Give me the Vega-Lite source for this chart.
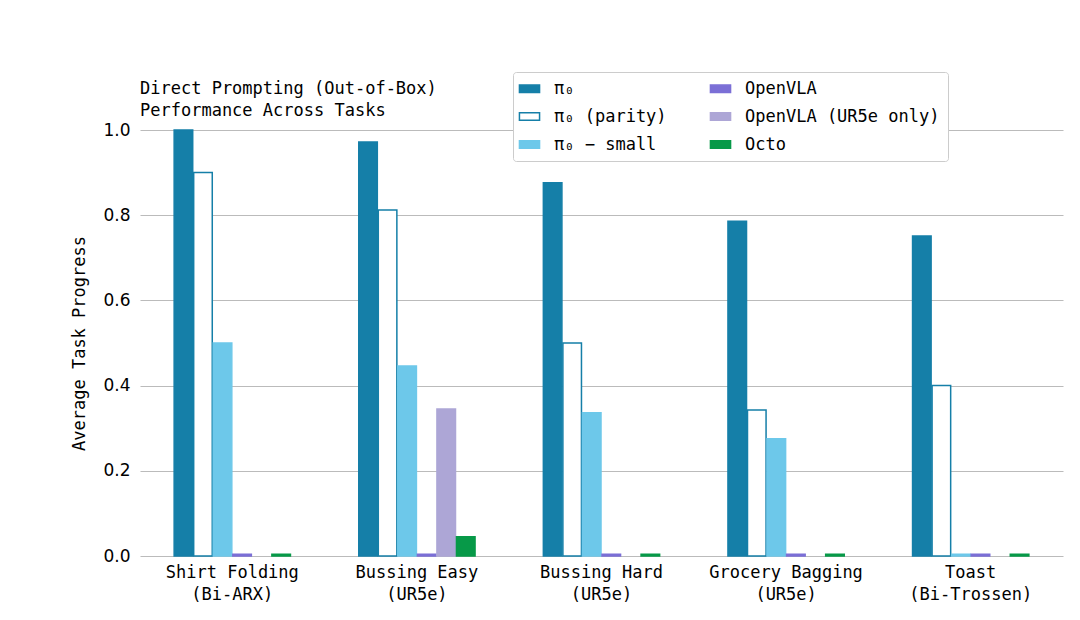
{
"$schema":"https://vega.github.io/schema/vega-lite/v6.json",
"autosize":"none","width":923,"height":426,
"padding":{"left":140,"top":130,"right":17,"bottom":64},
"background":"white",
"title":{"text":["Direct Prompting (Out-of-Box)","Performance Across Tasks"],"anchor":"start","frame":"group","font":"DejaVu Sans Mono","fontSize":17,"fontWeight":"normal","color":"black","offset":10,"dy":58,"lineHeight":22},
"data":{"values":[
{"task":"Shirt Folding|(Bi-ARX)","model":"π₀","v":1.0},
{"task":"Shirt Folding|(Bi-ARX)","model":"π₀ (parity)","v":0.9},
{"task":"Shirt Folding|(Bi-ARX)","model":"π₀ − small","v":0.5},
{"task":"Shirt Folding|(Bi-ARX)","model":"OpenVLA","v":0.004},
{"task":"Shirt Folding|(Bi-ARX)","model":"Octo","v":0.004},
{"task":"Bussing Easy|(UR5e)","model":"π₀","v":0.972},
{"task":"Bussing Easy|(UR5e)","model":"π₀ (parity)","v":0.812},
{"task":"Bussing Easy|(UR5e)","model":"π₀ − small","v":0.446},
{"task":"Bussing Easy|(UR5e)","model":"OpenVLA","v":0.004},
{"task":"Bussing Easy|(UR5e)","model":"OpenVLA (UR5e only)","v":0.345},
{"task":"Bussing Easy|(UR5e)","model":"Octo","v":0.045},
{"task":"Bussing Hard|(UR5e)","model":"π₀","v":0.876},
{"task":"Bussing Hard|(UR5e)","model":"π₀ (parity)","v":0.5},
{"task":"Bussing Hard|(UR5e)","model":"π₀ − small","v":0.336},
{"task":"Bussing Hard|(UR5e)","model":"OpenVLA","v":0.004},
{"task":"Bussing Hard|(UR5e)","model":"Octo","v":0.004},
{"task":"Grocery Bagging|(UR5e)","model":"π₀","v":0.786},
{"task":"Grocery Bagging|(UR5e)","model":"π₀ (parity)","v":0.343},
{"task":"Grocery Bagging|(UR5e)","model":"π₀ − small","v":0.275},
{"task":"Grocery Bagging|(UR5e)","model":"OpenVLA","v":0.004},
{"task":"Grocery Bagging|(UR5e)","model":"Octo","v":0.004},
{"task":"Toast|(Bi-Trossen)","model":"π₀","v":0.751},
{"task":"Toast|(Bi-Trossen)","model":"π₀ (parity)","v":0.4},
{"task":"Toast|(Bi-Trossen)","model":"π₀ − small","v":0.004},
{"task":"Toast|(Bi-Trossen)","model":"OpenVLA","v":0.004},
{"task":"Toast|(Bi-Trossen)","model":"Octo","v":0.004}
]},
"mark":{"type":"bar","strokeWidth":1.5},
"encoding":{
"x":{"field":"task","type":"nominal","sort":null,"scale":{"paddingInner":0.37,"paddingOuter":0.185},
 "axis":{"title":null,"labelAngle":0,"labelExpr":"split(datum.label,'|')","labelFont":"DejaVu Sans Mono","labelFontSize":17,"labelColor":"black","domain":false,"ticks":false,"labelPadding":8,"labelLineHeight":22}},
"xOffset":{"field":"model","type":"nominal","sort":["π₀","π₀ (parity)","π₀ − small","OpenVLA","OpenVLA (UR5e only)","Octo"],"scale":{"paddingInner":0.05}},
"y":{"field":"v","type":"quantitative","scale":{"domain":[0,1.0]},
 "axis":{"title":"Average Task Progress","titleFont":"DejaVu Sans Mono","titleFontSize":17,"titleFontWeight":"normal","titleColor":"black","titlePadding":14,"values":[0,0.2,0.4,0.6,0.8,1.0],"format":".1f","labelFont":"DejaVu Sans","labelFontSize":17,"labelColor":"black","domain":false,"ticks":false,"gridColor":"#bbbbbb","gridWidth":1.2,"labelPadding":10}},
"fill":{"field":"model","type":"nominal","scale":{"domain":["π₀","π₀ (parity)","π₀ − small","OpenVLA","OpenVLA (UR5e only)","Octo"],"range":["#157fa8","#ffffff","#6dc8ea","#7b6fd6","#ada6d6","#079948"]},
 "legend":{"title":null,"orient":"none","legendX":373,"legendY":-58,"columns":2,"columnPadding":40,"rowPadding":10,"symbolType":"M-1.5,-0.55H1.5V0.55H-1.5Z","symbolSize":180,"symbolStrokeWidth":1.5,"labelFont":"DejaVu Sans Mono","labelFontSize":17,"labelColor":"black","labelLimit":400,"strokeColor":"#cccccc","fillColor":"white","padding":8,"cornerRadius":3,"labelOffset":16}},
"stroke":{"field":"model","type":"nominal","scale":{"domain":["π₀","π₀ (parity)","π₀ − small","OpenVLA","OpenVLA (UR5e only)","Octo"],"range":["#157fa8","#157fa8","#6dc8ea","#7b6fd6","#ada6d6","#079948"]},"legend":null}
},
"config":{"view":{"stroke":null}}
}
